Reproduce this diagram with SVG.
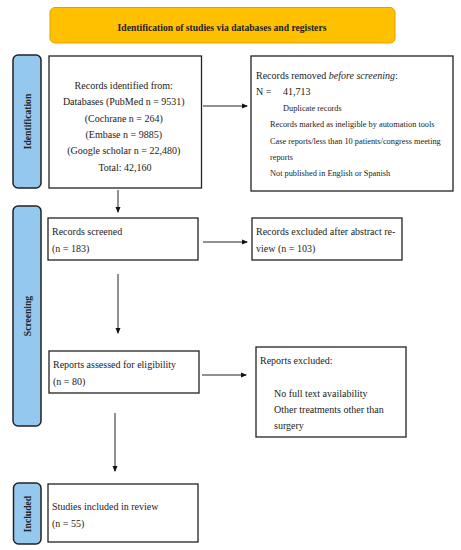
<svg xmlns="http://www.w3.org/2000/svg" width="461" height="550" viewBox="0 0 461 550">
<style>
.box{fill:#fff;stroke:#222;stroke-width:1.3}
.side{fill:#95C8EE;stroke:#222;stroke-width:1.5}
.t{font-family:"Liberation Serif",serif;font-size:10px;fill:#222}
.s{font-family:"Liberation Serif",serif;font-size:8.3px;fill:#222}
.b{font-family:"Liberation Serif",serif;font-size:9.6px;font-weight:bold;fill:#222}
.c{stroke:#222;stroke-width:1;fill:none;marker-end:url(#ah)}
</style>
<defs>
<marker id="ah" markerWidth="6" markerHeight="6" refX="5" refY="3" orient="auto" markerUnits="userSpaceOnUse">
<path d="M0,0.5 L6,3 L0,5.5 Z" fill="#111"/>
</marker>
</defs>
<rect width="461" height="550" fill="#fff"/>
<g id="header">
<rect x="50" y="7.5" width="345" height="35.5" rx="5" fill="#FFC000" stroke="#D9A300" stroke-width="1"/>
<text class="b" x="222" y="30.5" text-anchor="middle">Identification of studies via databases and registers</text>
</g>
<g id="side-identification">
<rect class="side" x="13" y="55" width="28" height="133" rx="5"/>
<text class="b" transform="translate(30.5,121.5) rotate(-90)" text-anchor="middle">Identification</text>
</g>
<g id="side-screening">
<rect class="side" x="13" y="206" width="28" height="220" rx="5"/>
<text class="b" transform="translate(30.5,316) rotate(-90)" text-anchor="middle">Screening</text>
</g>
<g id="side-included">
<rect class="side" x="13.5" y="483" width="27.5" height="61" rx="5"/>
<text class="b" transform="translate(30.5,514) rotate(-90)" text-anchor="middle">Included</text>
</g>
<g id="records-identified">
<rect class="box" x="49" y="56" width="152.5" height="132"/>
<text class="t" text-anchor="middle" x="125">
<tspan x="125" y="88.5">Records identified from:</tspan>
<tspan x="125" y="105">Databases (PubMed n = 9531)</tspan>
<tspan x="125" y="121.5">(Cochrane n = 264)</tspan>
<tspan x="125" y="137.5">(Embase n = 9885)</tspan>
<tspan x="125" y="154">(Google scholar n = 22,480)</tspan>
<tspan x="125" y="170.5">Total: 42,160</tspan>
</text>
</g>
<g id="records-removed">
<rect class="box" x="251" y="56" width="202" height="135"/>
<text class="t" x="256" y="79">Records removed <tspan font-style="italic">before screening</tspan>:</text>
<text class="t" x="256" y="94.5">N =</text>
<text class="t" x="283" y="94.5">41,713</text>
<text class="s" x="283" y="111">Duplicate records</text>
<text class="s" x="270" y="127">Records marked as ineligible by automation tools</text>
<text class="s" x="270" y="144">Case reports/less than 10 patients/congress meeting</text>
<text class="s" x="270" y="160">reports</text>
<text class="s" x="270" y="176">Not published in English or Spanish</text>
</g>
<g id="records-screened">
<rect class="box" x="48" y="218" width="150" height="42"/>
<text class="t" x="52" y="234.5">Records screened</text>
<text class="t" x="52" y="251.5">(n = 183)</text>
</g>
<g id="records-excluded">
<rect class="box" x="252" y="218" width="150" height="42"/>
<text class="t" x="256" y="234.5">Records excluded after abstract re-</text>
<text class="t" x="256" y="251.5">view (n = 103)</text>
</g>
<g id="reports-assessed">
<rect class="box" x="49" y="351" width="150" height="42"/>
<text class="t" x="53" y="368">Reports assessed for eligibility</text>
<text class="t" x="53" y="384.5">(n = 80)</text>
</g>
<g id="reports-excluded">
<rect class="box" x="256" y="347" width="150" height="90"/>
<text class="t" x="260" y="363.5">Reports excluded:</text>
<text class="t" x="274" y="396.5">No full text availability</text>
<text class="t" x="274" y="412.5">Other treatments other than</text>
<text class="t" x="274" y="429">surgery</text>
</g>
<g id="studies-included">
<rect class="box" x="48" y="484" width="150" height="58"/>
<text class="t" x="52" y="509.5">Studies included in review</text>
<text class="t" x="52" y="526.5">(n = 55)</text>
</g>
<g id="connectors">
<line class="c" x1="203" y1="106" x2="247" y2="106"/>
<line class="c" x1="118" y1="190" x2="118" y2="212"/>
<line class="c" x1="203" y1="242" x2="247" y2="242"/>
<line class="c" x1="118" y1="274" x2="118" y2="333"/>
<line class="c" x1="202" y1="375" x2="246" y2="375"/>
<line class="c" x1="115" y1="413" x2="115" y2="471"/>
</g>
</svg>
